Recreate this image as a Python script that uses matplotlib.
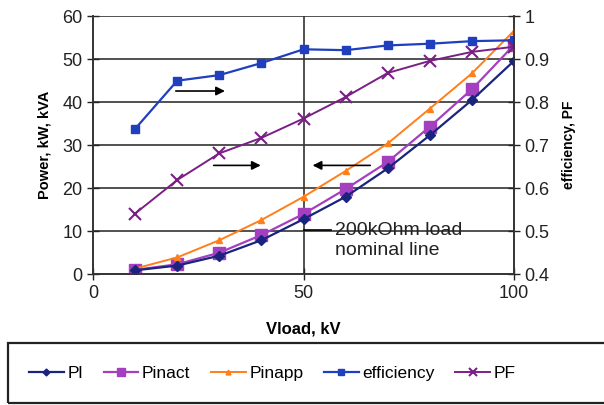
import matplotlib.pyplot as plt
from matplotlib.patches import Rectangle

# Load voltage, kV
vload = [10, 20, 30, 40, 50, 60, 70, 80, 90, 100]

# Power curves (left axis, kW / kVA)
pl = [0.9, 2.0, 4.3, 7.9, 12.8, 18.0, 24.6, 32.3, 40.5, 49.6]
pinact = [1.0, 2.3, 5.0, 9.1, 14.0, 19.8, 26.1, 34.3, 43.0, 53.3]
pinapp = [1.3, 3.9, 7.9, 12.6, 18.0, 24.0, 30.4, 38.5, 46.7, 56.6]

# Efficiency and power factor (right axis)
efficiency = [0.738, 0.850, 0.863, 0.891, 0.923, 0.921, 0.932, 0.936, 0.942, 0.944]
pf = [0.541, 0.619, 0.681, 0.717, 0.762, 0.812, 0.868, 0.896, 0.917, 0.929]

right_ticks = [0.4, 0.5, 0.6, 0.7, 0.8, 0.9, 1.0]
right_labels = ["0.4", "0.5", "0.6", "0.7", "0.8", "0.9", "1"]

plt.rcParams['font.family'] = ['Liberation Sans', 'DejaVu Sans']

fig = plt.figure(figsize=(6.04, 4.05), dpi=100)
ax = fig.add_axes([0.154, 0.323, 0.697, 0.637])
ax2 = ax.twinx()

# grid lines
for yv in [10, 20, 30, 40, 50, 60]:
    ax.axhline(yv, color='#333333', lw=1.2, zorder=1)
ax.axvline(50, color='#333333', lw=1.2, zorder=1)

l1, = ax.plot(vload, pl, color='#1a237e', marker='D', ms=5, lw=1.6, label='Pl', zorder=4)
l2, = ax.plot(vload, pinact, color='#a43fc0', marker='s', ms=8, lw=1.6, label='Pinact', zorder=3)
l3, = ax.plot(vload, pinapp, color='#ff7f1a', marker='^', ms=5, lw=1.4, label='Pinapp', zorder=3)
l4, = ax2.plot(vload, efficiency, color='#1f3fbf', marker='s', ms=6, lw=1.6, label='efficiency')
l5, = ax2.plot(vload, pf, color='#7b1f86', marker='x', ms=8, mew=1.5, lw=1.4, label='PF')

ax.set_xlim(0, 100)
ax.set_ylim(0, 60)
ax.set_xticks([0, 50, 100])
ax.set_yticks([0, 10, 20, 30, 40, 50, 60])
ax2.set_ylim(0.4, 1.0)
ax2.set_yticks(right_ticks)
ax2.set_yticklabels(right_labels)

for a in (ax, ax2):
    a.tick_params(direction='inout', length=8, width=1, labelsize=13, colors='#222222')
    for s in a.spines.values():
        s.set_color('#333333')
        s.set_linewidth(1.2)
    a.spines['top'].set_visible(False)

ax.set_xlabel('Vload, kV', fontsize=12, fontweight='bold', labelpad=14)
ax.set_ylabel('Power, kW, kVA', fontsize=10.5, fontweight='bold', labelpad=8)
ax2.set_ylabel('efficiency, PF', fontsize=10, fontweight='bold', labelpad=9)

# arrows showing which axis each curve belongs to
arrow = dict(arrowstyle='-|>', color='black', lw=1.2, mutation_scale=13)
ax.annotate('', xy=(32, 42.6), xytext=(19, 42.6), arrowprops=arrow)
ax.annotate('', xy=(40.5, 25.3), xytext=(28, 25.3), arrowprops=arrow)
ax.annotate('', xy=(51.5, 25.3), xytext=(66.5, 25.3), arrowprops=arrow)

# nominal line label
ax.plot([50, 56.5], [10.2, 10.2], color='black', lw=1.2)
ax.text(57.5, 10.2, '200kOhm load', fontsize=14, va='center', ha='left', color='#222222')
ax.text(57.5, 5.4, 'nominal line', fontsize=14, va='center', ha='left', color='#222222')

# legend frame runs off the right edge, as in the source
fig.patches.append(Rectangle((8 / 604, 0.004), 1.0, 0.149, transform=fig.transFigure,
                             fill=False, edgecolor='#222222', lw=1.6))
fig.legend([l1, l2, l3, l4, l5], ['Pl', 'Pinact', 'Pinapp', 'efficiency', 'PF'],
           loc='center', ncol=5, bbox_to_anchor=(0.451, 0.079), fontsize=12.5,
           frameon=False, handlelength=2.0, handletextpad=0.2, columnspacing=1.2,
           markerscale=0.7)

fig.savefig('out.png', dpi=100)
